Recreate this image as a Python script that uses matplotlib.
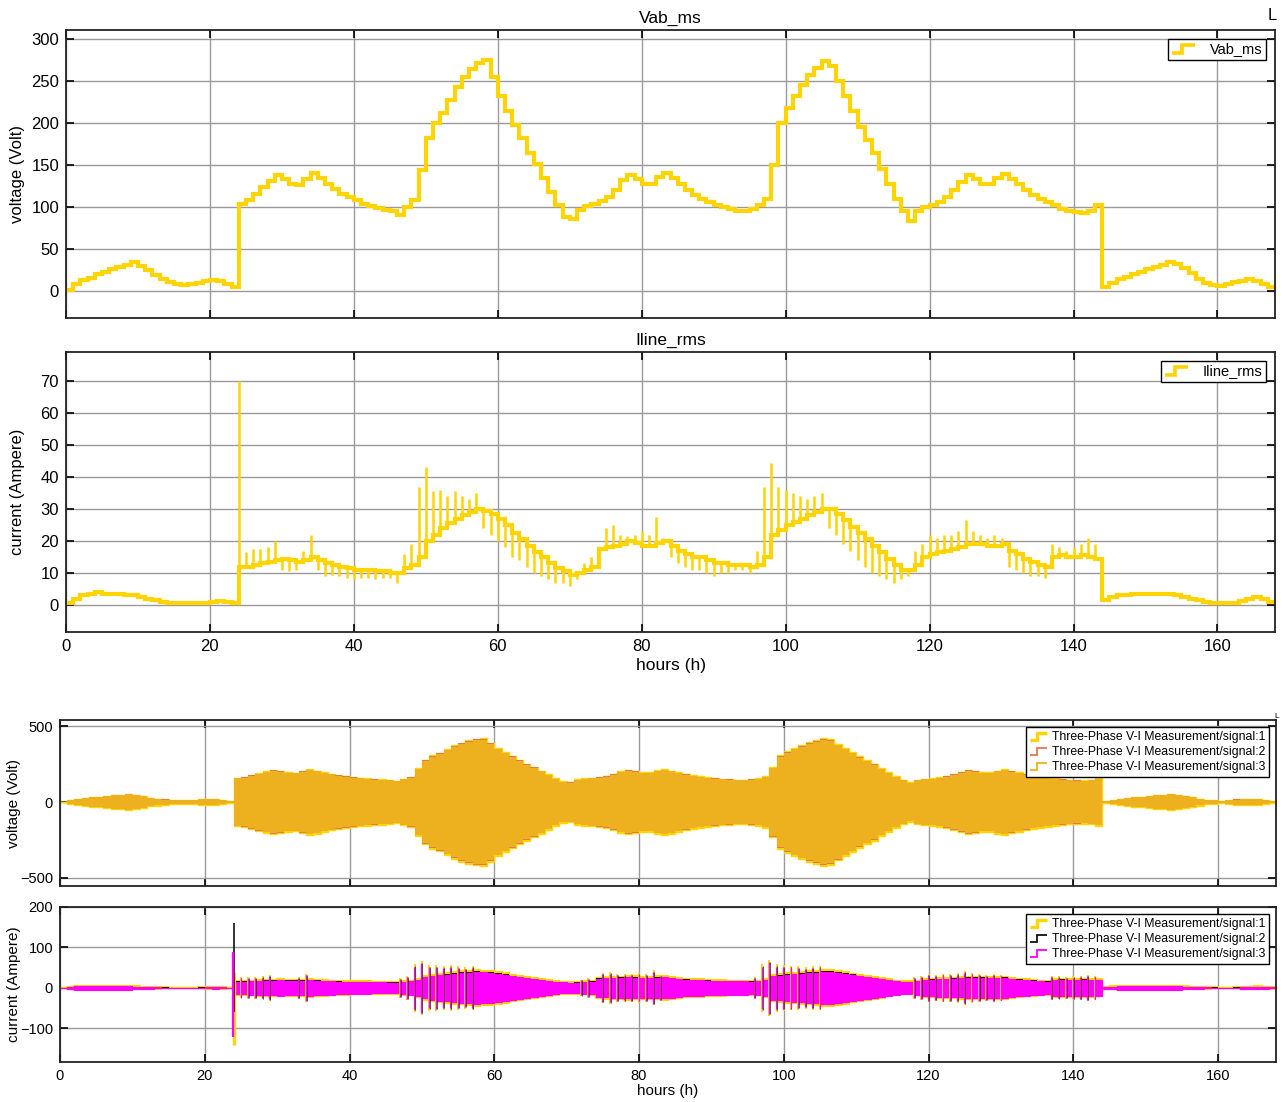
import numpy as np
import matplotlib
matplotlib.use("Agg")
import matplotlib.pyplot as plt
from matplotlib.legend_handler import HandlerBase
from matplotlib.lines import Line2D

plt.rcParams['font.family'] = ['Liberation Sans', 'DejaVu Sans']

# ---------------------------------------------------------------- data
# hourly RMS values (value held over [h, h+1))
vab_rms = [
    1, 9, 13, 16, 20, 23, 26, 29, 31, 35, 30, 25, 19, 15, 11, 8, 7, 8, 10, 12, 13, 12, 9, 5,
    104, 108, 116, 124, 131, 138, 134, 127, 126, 134, 141, 135, 128, 122, 116, 112, 108, 104, 101, 99, 97, 96, 91, 100,
    108, 144, 182, 200, 212, 228, 243, 255, 264, 272, 275, 255, 232, 215, 198, 182, 165, 152, 135, 118, 102, 88, 86, 97,
    101, 104, 107, 112, 120, 132, 138, 134, 128, 128, 136, 141, 135, 128, 120, 114, 110, 106, 103, 100, 98, 96, 95, 98,
    102, 110, 150, 200, 218, 232, 245, 257, 266, 274, 268, 250, 232, 215, 196, 180, 165, 145, 128, 110, 95, 84, 95, 100,
    102, 106, 112, 120, 130, 138, 133, 127, 128, 135, 140, 134, 127, 120, 115, 110, 106, 102, 98, 95, 94, 93, 96, 102,
    5, 10, 14, 17, 20, 23, 26, 29, 31, 35, 32, 27, 21, 15, 10, 7, 6, 8, 11, 12, 14, 12, 9, 5,
]

iline_rms = [
    0.5, 2, 3, 3.5, 4, 3.5, 3.5, 3.5, 3, 3, 2.5, 2, 1.5, 1, 0.8, 0.6, 0.5, 0.5, 0.6, 0.8, 1, 1.2, 1, 0.6,
    12, 12, 12.5, 13, 13.5, 14, 14.5, 14, 13.5, 14, 15, 14, 13, 12.5, 12, 11.5, 11, 11, 11, 10.5, 10.5, 10, 10, 11.5,
    12.5, 15, 20, 22, 24, 25.5, 27, 28, 29, 30, 29.5, 28.5, 27, 25, 22.5, 20.5, 18.5, 16.5, 15, 13, 11.5, 10.5, 9.5, 10,
    11, 12, 17.5, 18, 18.5, 19, 20, 19.5, 18.5, 18.5, 19.5, 20, 18.5, 17, 16, 15, 15, 14, 13, 13, 12.5, 12.5, 12.5, 12,
    12.5, 15, 22, 23.5, 25, 26, 27, 28, 29, 30, 30, 28.5, 26.5, 24.5, 22.5, 20.5, 18.5, 16.5, 14.5, 12.5, 11, 11, 12.5, 15,
    16, 16.5, 17, 17.5, 18, 19, 19, 19, 18.5, 18.5, 19, 17, 16, 14.5, 13.5, 12.5, 12, 15, 15.5, 15, 15, 15.5, 15, 14.5,
    1.5, 2.5, 3, 3, 3.5, 3.5, 3.5, 3.5, 3.5, 3.5, 3, 2.5, 2, 1.5, 1, 0.8, 0.6, 0.5, 0.8, 1.2, 2, 2.5, 2, 1,
]

# switching transients on the RMS current (hour, extreme value)
spike_hours = [
    24, 25, 26, 27, 28, 29, 30, 31, 32, 33, 34, 35, 36, 37, 38, 39, 40, 41, 42, 43, 44, 45, 46, 47,
    48, 49, 50, 51, 52, 53, 54, 55, 56, 57, 58, 59, 60, 61, 62, 63, 64, 65, 66, 67, 68, 69, 70, 71,
    72, 73, 75, 76, 77, 78, 79, 80, 81, 82, 83, 84, 85, 86, 87, 88, 89, 90, 91, 92, 93, 94, 95,
    96, 97, 98, 99, 100, 101, 102, 103, 104, 105, 106, 107, 108, 109, 110, 111, 112, 113, 114, 115, 116, 117,
    118, 119, 120, 121, 122, 123, 124, 125, 126, 127, 128, 129, 130, 131, 132, 133, 134, 135, 136,
    137, 138, 139, 140, 141, 142, 143,
]
spike_values = [
    70, 16.5, 17.5, 17.5, 18, 20, 11, 10.5, 11, 17, 22, 11, 9, 9.5, 9, 8.5, 8, 8.5, 8.5, 8, 8.5, 8.5, 7, 16,
    19, 37, 43, 35.5, 36, 34, 35.5, 34, 33, 35, 24, 22, 20, 18, 15, 14, 12, 10, 9, 8, 7, 7, 6, 8,
    13, 15, 24, 25, 22, 21.5, 22, 23, 22, 27.5, 21, 15, 13, 12, 11, 11, 10, 9, 10, 10, 11, 11, 10,
    17, 37, 44.5, 37, 36, 35, 34, 33, 34, 35, 24, 22, 19, 17, 14, 12, 10, 9, 8, 7, 8, 9,
    17, 19, 22, 21, 22, 22, 23, 26.5, 23, 22, 21, 22, 21, 12, 11, 10, 9, 9, 8.5,
    19, 18, 17, 18, 19, 21, 19,
]

# waveform scaling
v_crest = 1.5          # voltage peak / RMS
i_crest = 1.3          # current peak / RMS
spike_gain = 1.5       # instantaneous transient / RMS transient
inrush_hour = 24
inrush_peaks = {1: (-140, 40), 2: (-60, 160), 3: (-120, 90)}   # (min, max) per phase

hour_ticks = [0, 20, 40, 60, 80, 100, 120, 140, 160]

# ---------------------------------------------------------------- styling
GOLD = '#FFD400'
V1, V2, V3 = '#FFD400', '#E07A50', '#EDB120'
I1, I2, I3 = '#FFD400', '#111111', '#FF00FF'
GRID = '#9A9A9A'


class StepHandler(HandlerBase):
    """Legend key drawn as a small rising step."""
    def create_artists(self, legend, orig_handle, xdescent, ydescent,
                       width, height, fontsize, trans):
        x0 = -xdescent
        x1 = x0 + width
        xm = x0 + 0.42 * width
        ylo = -ydescent + 0.05 * height
        yhi = -ydescent + 0.85 * height
        ln = Line2D([x0, xm, xm, x1], [ylo, ylo, yhi, yhi],
                    color=orig_handle.get_color(),
                    linewidth=orig_handle.get_linewidth(),
                    solid_joinstyle='miter', solid_capstyle='butt')
        ln.set_transform(trans)
        return [ln]


def style_axes(ax, yticks, fs, show_x):
    ax.set_xlim(0, 168)
    ax.set_xticks(hour_ticks)
    ax.set_yticks(yticks)
    ax.grid(True, color=GRID, linewidth=1.0)
    ax.set_axisbelow(True)
    ax.tick_params(direction='in', length=6, width=1.2, top=True, right=True,
                   labelsize=fs, colors='black', pad=5)
    if not show_x:
        ax.tick_params(labelbottom=False)
    for s in ax.spines.values():
        s.set_linewidth(1.3)
        s.set_color('#222222')


fig = plt.figure(figsize=(12.82, 11.02), dpi=100)
W, H = 1282.0, 1102.0


def add_axes(l, t, r, b):
    return fig.add_axes([l / W, 1 - b / H, (r - l) / W, (b - t) / H])


edges = np.arange(len(vab_rms) + 1)
xs = np.append(np.arange(len(vab_rms)), len(vab_rms))
vab = np.asarray(vab_rms, float)
irms = np.asarray(iline_rms, float)

# ---------------------------------------------------------------- Vab_ms
ax1 = add_axes(66, 30, 1275, 318)
ax1.stairs(vab, edges, color=GOLD, linewidth=3.0, baseline=None)
ax1.set_ylim(-32, 311)
style_axes(ax1, [0, 50, 100, 150, 200, 250, 300], 12, False)
ax1.set_title('Vab_ms', fontsize=12.5, pad=5)
ax1.set_ylabel('voltage (Volt)', fontsize=12)
ax1.yaxis.set_label_coords((25 - 66) / 1209, 0.5)
h1 = Line2D([], [], color=GOLD, linewidth=2.6)
ax1.legend([h1], ['Vab_ms'], handler_map={Line2D: StepHandler()},
           loc='upper right', fontsize=10.5, frameon=True, fancybox=False,
           edgecolor='black', framealpha=1, borderaxespad=0.6,
           handlelength=1.6, handletextpad=1.0, borderpad=0.25)
fig.text(1272 / W, 1 - 16 / H, 'L', fontsize=12, ha='center', va='center')

# ---------------------------------------------------------------- Iline_rms
ax2 = add_axes(66, 352, 1275, 632)
ax2.stairs(irms, edges, color=GOLD, linewidth=3.0, baseline=None)
sh = np.asarray(spike_hours)
sv = np.asarray(spike_values, float)
ax2.vlines(sh, irms[sh], sv, color=GOLD, linewidth=1.8)
ax2.set_ylim(-8.4, 79)
style_axes(ax2, [0, 10, 20, 30, 40, 50, 60, 70], 12, True)
ax2.set_title('Iline_rms', fontsize=12.5, pad=5)
ax2.set_ylabel('current (Ampere)', fontsize=12)
ax2.yaxis.set_label_coords((25 - 66) / 1209, 0.5)
ax2.set_xlabel('hours (h)', fontsize=12.5, labelpad=3)
h2 = Line2D([], [], color=GOLD, linewidth=2.6)
ax2.legend([h2], ['Iline_rms'], handler_map={Line2D: StepHandler()},
           loc='upper right', fontsize=10.5, frameon=True, fancybox=False,
           edgecolor='black', framealpha=1, borderaxespad=0.6,
           handlelength=1.6, handletextpad=1.0, borderpad=0.25)

# ---------------------------------------------------------------- phase voltages
ax3 = add_axes(60, 720, 1276, 886)
venv = np.append(vab, vab[-1]) * v_crest
ax3.fill_between(xs, -venv * 1.03, venv * 1.03, step='post', color=V1, linewidth=1.0)
ax3.fill_between(xs, -venv * 1.015, venv * 1.015, step='post', color=V2, linewidth=0)
ax3.fill_between(xs, -venv, venv, step='post', color=V3, linewidth=0)
ax3.set_ylim(-556, 543)
style_axes(ax3, [-500, 0, 500], 10.5, False)
ax3.set_ylabel('voltage (Volt)', fontsize=11)
ax3.yaxis.set_label_coords((21 - 60) / 1216, 0.5)
hv = [Line2D([], [], color=V1, linewidth=2.4),
      Line2D([], [], color=V2, linewidth=1.3),
      Line2D([], [], color=V3, linewidth=1.3)]
ax3.legend(hv, ['Three-Phase V-I Measurement/signal:1',
                'Three-Phase V-I Measurement/signal:2',
                'Three-Phase V-I Measurement/signal:3'],
           handler_map={Line2D: StepHandler()}, loc='upper right',
           fontsize=8.8, frameon=True, fancybox=False, edgecolor='black',
           framealpha=1, borderaxespad=0.6, handlelength=1.4,
           handletextpad=0.4, borderpad=0.3, labelspacing=0.25)
fig.text(1277 / W, 1 - 716 / H, 'L', fontsize=6, ha='center', va='center')

# ---------------------------------------------------------------- phase currents
ax4 = add_axes(60, 907, 1276, 1062)
ienv = np.append(irms, irms[-1]) * i_crest
ax4.fill_between(xs, -ienv * 1.12, ienv * 1.12, step='post', color=I1,
                 edgecolor=I1, linewidth=1.6)
ax4.fill_between(xs, -ienv * 1.05, ienv * 1.05, step='post', color=I2, linewidth=0)
ax4.fill_between(xs, -ienv, ienv, step='post', color=I3, edgecolor=I3, linewidth=0.8)
up = sv > irms[sh]
for h, v in zip(sh[up], sv[up]):
    if h == inrush_hour:
        continue
    a = v * spike_gain
    ax4.vlines(h, -a * 1.05, a * 1.05, color=I1, linewidth=1.4)
    ax4.vlines(h + 0.06, -a * 0.97, a * 0.97, color=I2, linewidth=0.5)
    ax4.vlines(h - 0.06, -a * 0.95, a * 0.95, color=I3, linewidth=0.9)
for ph, col, lw, dx in [(1, I1, 2.4, 0.0), (2, I2, 1.2, 0.1), (3, I3, 1.6, -0.05)]:
    lo, hi = inrush_peaks[ph]
    ax4.vlines(inrush_hour + dx, lo, hi, color=col, linewidth=lw)
ax4.set_ylim(-183, 200)
style_axes(ax4, [-100, 0, 100, 200], 10.5, True)
ax4.set_ylabel('current (Ampere)', fontsize=11)
ax4.yaxis.set_label_coords((21 - 60) / 1216, 0.5)
ax4.set_xlabel('hours (h)', fontsize=11, labelpad=1)
hi_ = [Line2D([], [], color=I1, linewidth=2.4),
       Line2D([], [], color=I2, linewidth=1.3),
       Line2D([], [], color=I3, linewidth=1.3)]
ax4.legend(hi_, ['Three-Phase V-I Measurement/signal:1',
                 'Three-Phase V-I Measurement/signal:2',
                 'Three-Phase V-I Measurement/signal:3'],
           handler_map={Line2D: StepHandler()}, loc='upper right',
           fontsize=8.8, frameon=True, fancybox=False, edgecolor='black',
           framealpha=1, borderaxespad=0.6, handlelength=1.4,
           handletextpad=0.4, borderpad=0.3, labelspacing=0.25)

fig.savefig('out.png', dpi=100)
